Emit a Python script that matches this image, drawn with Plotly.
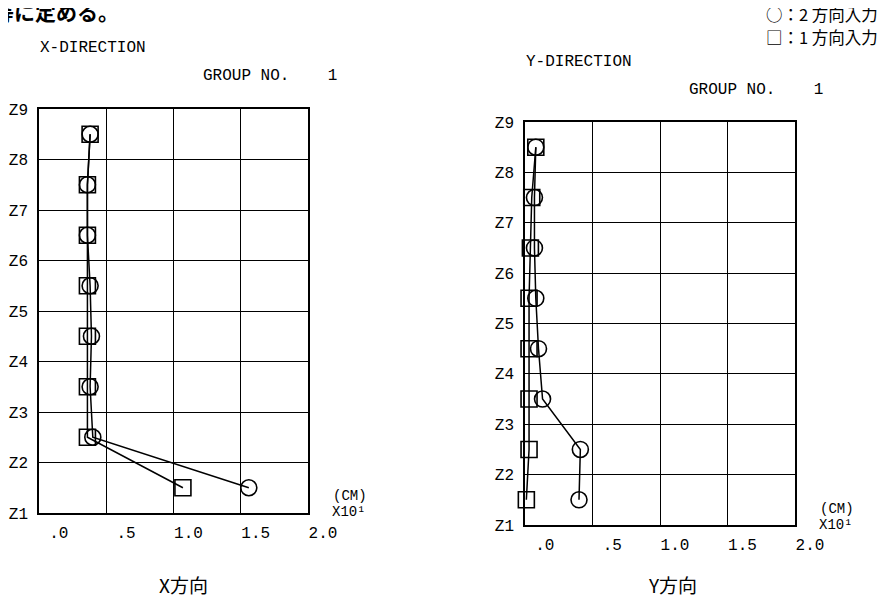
import plotly.graph_objects as go

# The page body adds an 8px margin, so the figure is made 8px smaller and all
# layout positions are given in reference-image pixels minus that offset.
OFF = 8
W, H = 887 - OFF, 598 - OFF

# ---- data ----
floors = [8.5, 7.5, 6.5, 5.5, 4.5, 3.5, 2.5, 1.5]
x_dir_two = [0.38, 0.36, 0.36, 0.38, 0.39, 0.38, 0.40, 1.56]   # circles (2方向入力)
x_dir_one = [0.38, 0.36, 0.36, 0.36, 0.36, 0.36, 0.36, 1.07]   # squares (1方向入力)
y_dir_two = [0.08, 0.07, 0.07, 0.08, 0.10, 0.13, 0.41, 0.40]
y_dir_one = [0.08, 0.05, 0.04, 0.03, 0.03, 0.03, 0.03, 0.01]

x_tickvals = [0, 0.5, 1.0, 1.5, 2.0]
x_ticktext = ["\u00a0.0", "\u00a0.5", "1.0", "1.5", "2.0"]
z_tickvals = [1, 2, 3, 4, 5, 6, 7, 8, 9]
z_ticktext = ["Z1", "Z2", "Z3", "Z4", "Z5", "Z6", "Z7", "Z8", "Z9"]

MONO = "Liberation Mono, Courier New, monospace"
CJK = "Noto Sans CJK JP, sans-serif"

fig = go.Figure()

def add_series(xs, ys, symbol, xa, ya):
    fig.add_trace(go.Scatter(
        x=xs, y=ys, mode="lines+markers", xaxis=xa, yaxis=ya,
        line=dict(color="black", width=1.5),
        marker=dict(symbol=symbol, size=16, color="black", line=dict(color="black", width=1.6)),
        cliponaxis=False, showlegend=False, hoverinfo="skip"))

add_series(x_dir_one, floors, "square-open", "x", "y")
add_series(x_dir_two, floors, "circle-open", "x", "y")
add_series(y_dir_one, floors, "square-open", "x2", "y2")
add_series(y_dir_two, floors, "circle-open", "x2", "y2")

def px(x):
    return (x - OFF) / W

def py(y):
    return 1 - (y - OFF) / H

xax = dict(range=[0, 2], tickvals=x_tickvals, ticktext=x_ticktext, showgrid=True,
           gridcolor="black", gridwidth=1.3, showline=True, linecolor="black", linewidth=1.5,
           mirror=True, ticks="", zeroline=False, ticklabelshift=15, ticklabelstandoff=4,
           tickfont=dict(family=MONO, size=16, color="black"), fixedrange=True,
           automargin=False)
yax = dict(range=[1, 9], tickvals=z_tickvals, ticktext=z_ticktext, showgrid=True,
           gridcolor="black", gridwidth=1.3, showline=True, linecolor="black", linewidth=1.5,
           mirror=True, ticks="", zeroline=False, ticklabelstandoff=6,
           tickfont=dict(family=MONO, size=16, color="black"), fixedrange=True,
           automargin=False)

fig.update_layout(
    width=W, height=H, margin=dict(l=0, r=0, t=0, b=0, pad=0, autoexpand=False),
    paper_bgcolor="white", plot_bgcolor="white", showlegend=False,
    xaxis=dict(xax, domain=[px(39), px(308)], anchor="y"),
    yaxis=dict(yax, domain=[py(513), py(109)], anchor="x"),
    xaxis2=dict(xax, domain=[px(525), px(795)], anchor="y2"),
    yaxis2=dict(yax, domain=[py(525), py(122)], anchor="x2"),
)

def note(text, x, y, size=16, family=MONO, xanchor="left", bold=False):
    fig.add_annotation(text=("<b>%s</b>" % text) if bold else text,
                       x=px(x), y=py(y), xref="paper", yref="paper",
                       xanchor=xanchor, yanchor="middle", showarrow=False, align="left",
                       font=dict(family=family, size=size, color="black"))

note("等に定める。", -9, 11, size=21, family=CJK, xanchor="left", bold=True)
note("○：2 方向入力", 764, 14, size=16.5, family=CJK, xanchor="left")
note("□：1 方向入力", 764, 37, size=16.5, family=CJK, xanchor="left")

note("X-DIRECTION", 38, 48)
note("GROUP NO.\u00a0\u00a0\u00a0\u00a01", 201, 76)
note("Y-DIRECTION", 524, 62)
note("GROUP NO.\u00a0\u00a0\u00a0\u00a01", 687, 90)

note("(CM)", 331, 496, size=14)
note("X10¹", 330, 512, size=14)
note("(CM)", 818, 509, size=14)
note("X10¹", 817, 525, size=14)

note("X方向", 183, 584, size=19, family=CJK, xanchor="center")
note("Y方向", 672, 584, size=19, family=CJK, xanchor="center")

fig.write_html("out.html")
